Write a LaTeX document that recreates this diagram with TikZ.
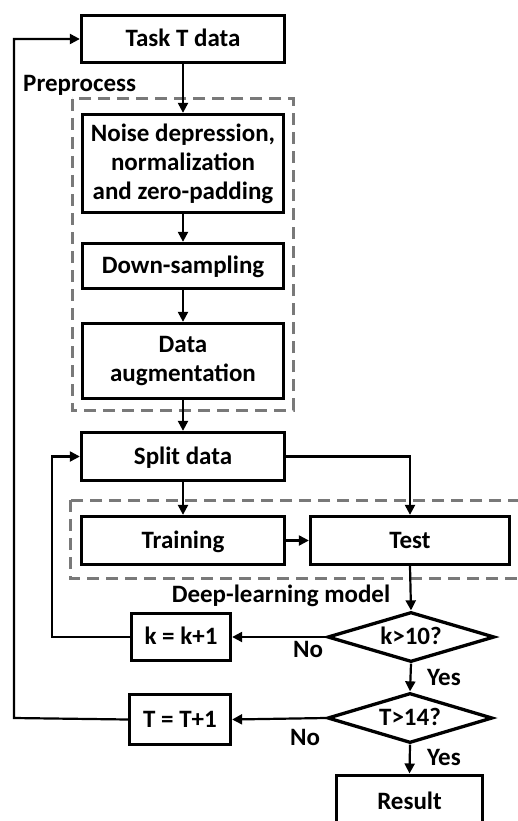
\documentclass[tikz,border=0pt]{standalone}
\usepackage{fontspec}
\setmainfont{Carlito}
\usetikzlibrary{arrows.meta,shapes.geometric}
\tikzset{
  base/.style={font=\fontsize{25}{29}\selectfont\bfseries, align=center},
  multibox/.style={base, draw=black, line width=3.3pt, rectangle, inner sep=0pt, fill=white},
  box/.style={multibox, text height=20pt, text depth=5pt},
  decision/.style={base, draw=black, line width=3.3pt, diamond, shape aspect=3.3, inner sep=0pt, fill=white, text height=20pt, text depth=5pt},
  lbl/.style={base, inner sep=0pt, text height=20pt, text depth=5pt},
  conn/.style={draw=black, line width=2.2pt, -{Triangle[length=10pt,width=10pt]}},
  group/.style={draw=gray!95!black, line width=3pt, dash pattern=on 12pt off 7pt}
}
\begin{document}
\begin{tikzpicture}[x=1pt,y=-1pt]
\useasboundingbox (0,0) rectangle (518,821);
\clip (0,0) rectangle (518,821);
\fill[white] (0,0) rectangle (518,821);
% groups
\draw[group] (72,99) rectangle (293,410);
\draw[group] (70,500) rectangle (540,578);
% nodes
\node[box, minimum width=203pt, minimum height=47pt] (task) at (183,39) {Task T data};
\node[lbl, anchor=west] (pre) at (23,84) {Preprocess};
\node[multibox, minimum width=201pt, minimum height=98pt] (noise) at (183,163.5) {Noise depression,\\normalization\\and zero-padding};
\node[box, minimum width=201pt, minimum height=45pt] (down) at (183,266) {Down-sampling};
\node[multibox, minimum width=201pt, minimum height=75pt] (aug) at (183,361) {Data\\augmentation};
\node[box, minimum width=203pt, minimum height=48pt] (split) at (183,456.5) {Split data};
\node[box, minimum width=203pt, minimum height=48pt] (train) at (183,540.5) {Training};
\node[box, minimum width=199pt, minimum height=48pt] (test) at (410,540.5) {Test};
\node[lbl] (dl) at (281,595) {Deep-learning model};
\node[decision, minimum width=167pt, minimum height=50pt] (d1) at (411,637) {k>10?};
\node[box, minimum width=99pt, minimum height=47pt] (kbox) at (181,637) {k = k+1};
\node[decision, minimum width=165pt, minimum height=50pt] (d2) at (410,718) {T>14?};
\node[box, minimum width=101pt, minimum height=50pt] (tbox) at (180,719.5) {T = T+1};
\node[box, minimum width=146pt, minimum height=53pt, anchor=north] (result) at (409.5,773.5) {Result};
\node[lbl] (no1) at (308,650) {No};
\node[lbl] (yes1) at (444,678) {Yes};
\node[lbl] (no2) at (305,738) {No};
\node[lbl] (yes2) at (444,758) {Yes};
% helper coordinates
\coordinate (kloop) at (52,637);
\coordinate (tloop) at (14,718);
% connectors
\draw[conn] (task.south) -- (noise.north);
\draw[conn] (noise.south) -- (down.north);
\draw[conn] (down.south) -- (aug.north);
\draw[conn] (aug.south) -- (split.north);
\draw[conn] (split.south) -- (train.north);
\draw[conn] (split.east) -| (test.north);
\draw[conn] (train.east) -- (test.west);
\draw[conn] (test.south) -- (d1.north);
\draw[conn] (d1.west) -- (kbox.east);
\draw[conn] (kbox.west) -- (kloop) |- (split.west);
\draw[conn] (d1.south) -- (d2.north);
\draw[conn] (d2.west) -- (tbox.east);
\draw[conn] (tbox.west) -- (tloop) |- (task.west);
\draw[conn] (d2.south) -- (result.north);
\end{tikzpicture}
\end{document}
